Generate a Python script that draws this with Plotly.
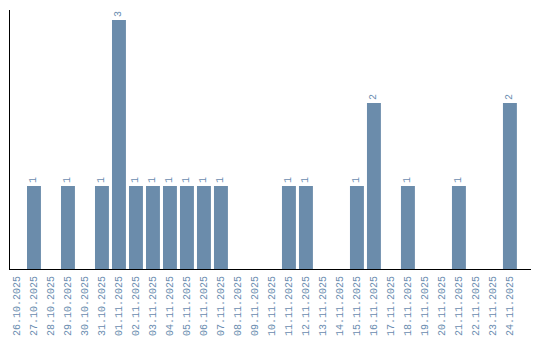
import plotly.graph_objects as go

dates = ["26.10.2025", "27.10.2025", "28.10.2025", "29.10.2025", "30.10.2025",
         "31.10.2025", "01.11.2025", "02.11.2025", "03.11.2025", "04.11.2025",
         "05.11.2025", "06.11.2025", "07.11.2025", "08.11.2025", "09.11.2025",
         "10.11.2025", "11.11.2025", "12.11.2025", "13.11.2025", "14.11.2025",
         "15.11.2025", "16.11.2025", "17.11.2025", "18.11.2025", "19.11.2025",
         "20.11.2025", "21.11.2025", "22.11.2025", "23.11.2025", "24.11.2025"]
counts = [0, 1, 0, 1, 0, 1, 3, 1, 1, 1, 1, 1, 1, 0, 0,
          0, 1, 1, 0, 0, 1, 2, 0, 1, 0, 0, 1, 0, 0, 2]

labels = [str(c) if c > 0 else "" for c in counts]

bar_color = "#6b8cab"
text_color = "#6a8caf"

fig = go.Figure(go.Bar(
    x=dates, y=counts, text=labels, textposition="outside",
    textangle=-90, cliponaxis=False,
    textfont=dict(family="Liberation Mono", size=10, color=text_color),
    marker=dict(color=bar_color, line=dict(width=0)),
    hoverinfo="skip",
))

fig.update_layout(
    width=540, height=340,
    margin=dict(l=10, r=9, t=10, b=71, autoexpand=False),
    paper_bgcolor="white", plot_bgcolor="white",
    bargap=0.18, showlegend=False,
    uniformtext=dict(minsize=1),
)
fig.update_xaxes(
    type="category", range=[-0.41, 30.24], automargin=False,
    showline=True, linecolor="black", linewidth=1,
    showgrid=False, ticks="", tickangle=-90, ticklabelstandoff=2,
    tickfont=dict(family="Liberation Mono", size=10, color=text_color),
)
fig.update_yaxes(
    range=[0, 3.12], showline=True, linecolor="black", linewidth=1, automargin=False,
    showgrid=False, zeroline=False, showticklabels=False, ticks="",
)

fig.write_html("out.html")
